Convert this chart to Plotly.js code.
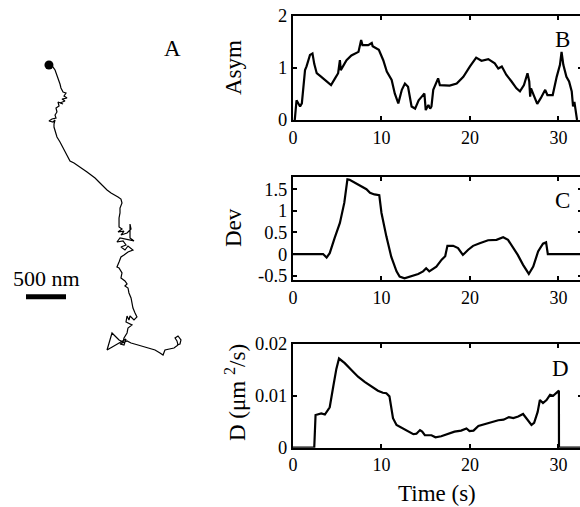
<!DOCTYPE html>
<html>
<head>
<meta charset="utf-8">
<script src="https://cdn.plot.ly/plotly-3.0.1.min.js"></script>
<style>
html,body{margin:0;padding:0;overflow:hidden;background:#fff;}
#chart{width:584px;height:507px;}
</style>
</head>
<body>
<div id="chart"></div>
<script>
// Panel B: asymmetry vs time
const tB = [0.2,0.4,0.8,1.0,1.36,1.53,1.92,2.2,2.4,2.68,3.2,3.8,4.3,4.75,5.1,5.3,5.4,6.05,6.6,7.4,7.7,7.85,8.5,8.9,9.0,9.7,10.2,10.6,11.15,11.5,11.9,12.3,12.65,13.0,13.4,13.8,14.2,14.55,14.85,15.0,15.3,15.5,15.65,15.85,16.25,16.4,16.6,17.7,18.5,19.25,20.0,20.7,21.3,22.07,22.8,23.2,23.6,24.1,24.7,25.25,25.65,26.1,26.5,26.7,26.8,26.9,27.2,27.6,28.0,28.5,28.75,29.35,29.8,30.17,30.35,30.55,30.9,31.2,31.5,31.65,31.8,32.05,32.1];
const asym = [0,0.38,0.26,0.32,0.96,1.03,1.25,1.28,1.08,0.9,0.83,0.74,0.67,0.8,0.9,1.15,0.96,1.15,1.24,1.31,1.54,1.44,1.44,1.48,1.42,1.35,1.15,0.93,0.77,0.51,0.32,0.58,0.7,0.64,0.26,0.22,0.38,0.45,0.51,0.19,0.29,0.22,0.26,0.58,0.77,0.8,0.67,0.66,0.7,0.83,1.03,1.2,1.14,1.17,1.09,0.99,1.03,0.87,0.74,0.61,0.55,0.67,0.9,0.74,0.45,0.61,0.48,0.31,0.42,0.58,0.48,0.48,0.83,1.06,1.31,1.06,0.83,0.74,0.55,0.26,0.35,0.04,0];

// Panel C: deviation vs time
const tC = [0,3.4,3.8,4.15,4.7,5.3,5.8,6.15,6.4,7.4,8.3,8.7,9.2,9.75,10.0,10.55,11.1,11.7,12.05,12.6,13.2,14.15,14.7,15.05,15.4,15.8,16.2,16.8,17.2,17.45,18.1,18.65,19.2,19.8,20.35,21.1,22.05,23.0,23.75,24.3,25.05,25.4,26.0,26.65,27.15,27.7,28.25,28.6,28.8,32.7];
const dev = [0,0,-0.08,0.02,0.37,0.72,1.19,1.73,1.72,1.61,1.5,1.42,1.38,1.36,0.95,0.41,-0.06,-0.4,-0.52,-0.56,-0.52,-0.46,-0.4,-0.33,-0.4,-0.35,-0.29,-0.13,-0.05,0.19,0.19,0.14,-0.02,0.1,0.19,0.25,0.32,0.33,0.39,0.33,0.1,-0.02,-0.25,-0.46,-0.29,0.06,0.24,0.27,0,0];

// Panel D: diffusion coefficient vs time
const tD = [0,2.4,2.55,2.85,3.2,3.6,4.15,4.55,4.9,5.2,5.85,6.6,7.35,8.1,8.85,9.6,10.15,10.55,10.9,11.3,11.7,12.45,13.0,13.6,13.95,14.35,14.6,14.9,15.65,16.1,16.75,17.5,18.25,19.0,19.6,19.95,20.4,20.95,21.7,22.45,23.2,23.8,24.4,24.9,25.45,26.0,26.35,26.95,27.25,27.65,27.9,28.25,28.65,29.05,29.4,29.7,30.05,30.06,32.7];
const diffD = [0,0,0.0063,0.0065,0.0066,0.0064,0.0078,0.0118,0.0152,0.0172,0.0163,0.015,0.0137,0.0127,0.0118,0.011,0.0106,0.0105,0.0099,0.0057,0.0044,0.0037,0.0031,0.0026,0.0027,0.0034,0.0031,0.0024,0.0024,0.002,0.0022,0.0026,0.0031,0.0033,0.0037,0.0032,0.0033,0.0042,0.0046,0.005,0.0053,0.0054,0.0059,0.0057,0.006,0.0065,0.0057,0.0044,0.0048,0.0069,0.0092,0.0086,0.0092,0.0102,0.01,0.0105,0.011,0,0];

// Panel A: trajectory (nm)
const trajX = [612,662,688,712,738,750,762,788,825,800,838,775,812,750,788,725,738,700,712,688,700,650,612,662,688,675,675,688,712,750,775,800,838,875,925,962,1025,1088,1138,1188,1250,1300,1338,1388,1438,1475,1512,1525,1500,1500,1488,1488,1488,1525,1475,1550,1512,1588,1638,1625,1625,1675,1600,1500,1462,1538,1575,1512,1562,1600,1662,1600,1550,1512,1488,1462,1488,1525,1512,1562,1588,1562,1600,1612,1638,1650,1662,1688,1712,1675,1625,1612,1588,1575,1650,1600,1588,1550,1538,1488,1400,1338,1512,1575,1550,1500,1588,1638,1725,1812,1875,1938,2000,2038,2062,2125,2175,2225,2212,2188,2225,2262,2250,2212];
const trajY = [812,838,875,938,1000,1050,1100,1150,1162,1200,1225,1238,1262,1288,1300,1275,1325,1350,1400,1438,1475,1488,1512,1525,1500,1550,1588,1638,1712,1775,1825,1875,1938,2012,2038,2062,2100,2150,2188,2225,2288,2338,2375,2412,2438,2462,2488,2538,2600,2662,2725,2788,2838,2862,2900,2888,2938,2912,2862,2800,2975,3012,3000,2975,3025,3012,3062,3088,3125,3075,3125,3150,3188,3212,3275,3338,3350,3412,3475,3512,3550,3575,3600,3662,3725,3788,3850,3912,3962,4000,3950,4000,3950,4025,4062,4100,4162,4225,4275,4250,4162,4375,4275,4238,4312,4300,4262,4288,4312,4338,4350,4375,4412,4438,4375,4362,4350,4312,4262,4225,4200,4250,4300,4312];
const scaleBarX = [325, 825];
const scaleBarY = [3708, 3708];

const xTicks = [0,10,20,30];
const W = 584, H = 507;
const FONT = 'Liberation Serif, Times New Roman, serif';

function px(x){return x/W;}
function py(y){return 1 - y/H;}

const lineStyle = {color:'#000', width:2.2};
const traces = [
  {x:tB, y:asym, xaxis:'x', yaxis:'y', mode:'lines', line:lineStyle},
  {x:tC, y:dev, xaxis:'x2', yaxis:'y2', mode:'lines', line:lineStyle},
  {x:tD, y:diffD, xaxis:'x3', yaxis:'y3', mode:'lines', line:lineStyle},
  {x:trajX, y:trajY, xaxis:'x4', yaxis:'y4', mode:'lines', line:{color:'#000', width:1.2}},
  {x:[trajX[0]], y:[trajY[0]], xaxis:'x4', yaxis:'y4', mode:'markers', marker:{color:'#000', size:9}},
  {x:scaleBarX, y:scaleBarY, xaxis:'x4', yaxis:'y4', mode:'lines', line:{color:'#000', width:5}}
];

function xax(anchor){
  return {anchor:anchor, domain:[px(293), px(582)], range:[0,32.66], tickvals:xTicks,
    ticks:'inside', ticklen:4, tickwidth:2, tickcolor:'#000', mirror:'allticks', showline:true, linewidth:2,
    linecolor:'#000', showgrid:false, zeroline:false, tickfont:{family:FONT, size:18, color:'#000'}};
}
function yax(anchor, top, bottom, range, tv, tt){
  return {anchor:anchor, domain:[py(bottom), py(top)], range:range, tickvals:tv, ticktext:tt,
    ticks:'inside', ticklen:4, tickwidth:2, tickcolor:'#000', mirror:'allticks', showline:true, linewidth:2,
    linecolor:'#000', showgrid:false, zeroline:false, tickfont:{family:FONT, size:18.5, color:'#000'}};
}

function ann(text, x, y, size, extra){
  return Object.assign({text:text, xref:'paper', yref:'paper', x:px(x), y:py(y), xanchor:'center', yanchor:'middle',
    showarrow:false, font:{family:FONT, size:size, color:'#000'}}, extra || {});
}

const layout = {
  width:W, height:H, margin:{l:0,r:0,t:0,b:0}, showlegend:false,
  paper_bgcolor:'#fff', plot_bgcolor:'#fff',
  xaxis: xax('y'),
  yaxis: yax('x', 16, 120, [0,2], [0,1,2], ['0','1','2']),
  xaxis2: xax('y2'),
  yaxis2: yax('x2', 176.7, 280, [-0.6,1.79], [-0.5,0,0.5,1,1.5], ['-0.5','0','0.5','1','1.5']),
  xaxis3: xax('y3'),
  yaxis3: yax('x3', 344, 447.7, [0,0.02], [0,0.01,0.02], ['0','0.01','0.02']),
  xaxis4: {anchor:'y4', domain:[0, px(200)], range:[0,2500], visible:false},
  yaxis4: {anchor:'x4', domain:[py(370), py(40)], range:[4625,500], visible:false},
  annotations: [
    ann('A', 172, 48, 23),
    ann('B', 562, 40, 23),
    ann('C', 562, 200, 23),
    ann('D', 560, 368, 23),
    {text:'500 nm', xref:'x4', yref:'y4', x:575, y:3475, xanchor:'center', yanchor:'middle', showarrow:false, font:{family:FONT,size:22,color:'#000'}},
    ann('Asym', 233, 68, 23, {textangle:-90}),
    ann('Dev', 233, 228, 23, {textangle:-90}),
    ann('D (μm <sup>2</sup>/s)', 235, 393, 23, {textangle:-90}),
    ann('Time (s)', 437, 493, 23)
  ]
};

Plotly.newPlot('chart', traces, layout, {staticPlot:true, displayModeBar:false});
</script>
</body>
</html>
